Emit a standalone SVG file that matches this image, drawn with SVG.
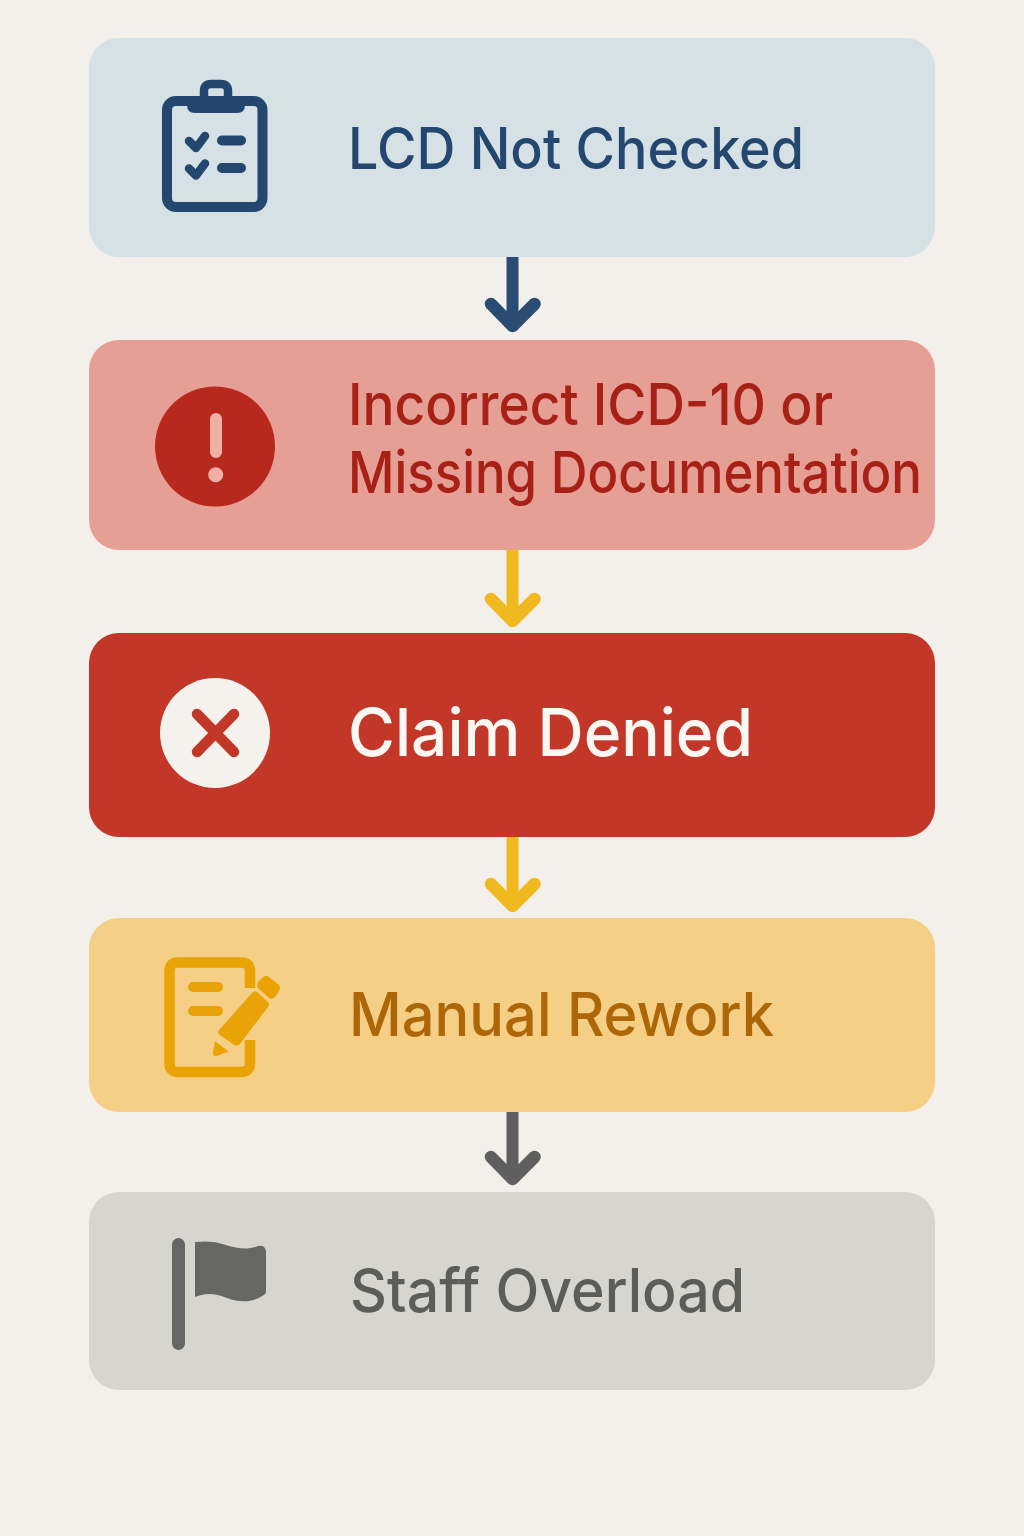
<svg xmlns="http://www.w3.org/2000/svg" width="1024" height="1536" viewBox="0 0 1024 1536">
<style>
.lbl{font-family:"Inter","Noto Sans","Liberation Sans",sans-serif;font-weight:500}
.conn{fill:none;stroke-width:12}
.head{fill:none;stroke-width:12.5;stroke-linecap:round;stroke-linejoin:round}
</style>
<rect width="1024" height="1536" fill="#f3f0eb"/>
<g id="connectors">
<path class="conn" stroke="#2a4b72" d="M512.500 257V326"/><path class="head" stroke="#2a4b72" d="M491 304L512.500 326L534.500 304"/>
<path class="conn" stroke="#f0b91f" d="M512.500 550V619"/><path class="head" stroke="#f0b91f" d="M491 599L512.500 621L534.500 599"/>
<path class="conn" stroke="#f0b91f" d="M512.500 837V904"/><path class="head" stroke="#f0b91f" d="M491 884L512.500 906L534.500 884"/>
<path class="conn" stroke="#5f5f5f" d="M512.500 1112V1178"/><path class="head" stroke="#5f5f5f" d="M491 1157L512.500 1179L534.500 1157"/>
</g>
<g id="node-lcd">
<rect x="89" y="38" width="846" height="219" rx="30" fill="#d6e1e5"/>
<rect x="167" y="101" width="95.500" height="106" rx="9" fill="none" stroke="#24476f" stroke-width="10"/>
<path d="M204 100V91Q204 84 211 84H221Q228 84 228 91V100" fill="none" stroke="#24476f" stroke-width="8.500"/>
<path d="M187 96H245V105Q245 113 237 113H195Q187 113 187 105Z" fill="#24476f"/>
<path d="M189 141L196 148L205 136M189 168.500L196 175.500L205 163.500" fill="none" stroke="#24476f" stroke-width="8.500" stroke-linecap="round" stroke-linejoin="round"/>
<path d="M222 140.500H241M222 168H241" fill="none" stroke="#24476f" stroke-width="10" stroke-linecap="round"/>
<text class="lbl" x="348" y="169" fill="#24476f" font-size="57" textLength="456" lengthAdjust="spacingAndGlyphs">LCD Not Checked</text>
</g>
<g id="node-incorrect">
<rect x="89" y="340" width="846" height="210" rx="30" fill="#e69f94"/>
<circle cx="215" cy="446.500" r="60" fill="#b8291d"/>
<path d="M216 419V452" fill="none" stroke="#f0b0a5" stroke-width="12" stroke-linecap="round"/>
<circle cx="215.700" cy="474.700" r="7.500" fill="#f0b0a5"/>
<text class="lbl" x="348" y="425" fill="#a82116" font-size="58" textLength="485" lengthAdjust="spacingAndGlyphs">Incorrect ICD-10 or</text>
<text class="lbl" x="348" y="493" fill="#a82116" font-size="58" textLength="574" lengthAdjust="spacingAndGlyphs">Missing Documentation</text>
</g>
<g id="node-denied">
<rect x="89" y="633" width="846" height="204" rx="30" fill="#c23728"/>
<circle cx="215" cy="733" r="55" fill="#f5f2ed"/>
<path d="M197 714L234 752M234 714L197 752" fill="none" stroke="#c23728" stroke-width="10.500" stroke-linecap="round"/>
<text class="lbl" x="348" y="756" fill="#fbf8f3" font-size="66" textLength="405" lengthAdjust="spacingAndGlyphs">Claim Denied</text>
</g>
<g id="node-rework">
<rect x="89" y="918" width="846" height="194" rx="30" fill="#f5cf85"/>
<path d="M250 988V971Q250 962.500 241 962.500H178Q169.500 962.500 169.500 971V1063Q169.500 1072 178 1072H241Q250 1072 250 1063V1040" fill="none" stroke="#e9a306" stroke-width="10.500"/>
<path d="M193 987H218M193 1011H218" fill="none" stroke="#e9a306" stroke-width="10" stroke-linecap="round"/>
<path d="M252 993Q254 990 257 992L268 1002Q270 1004 268 1007L240 1044Q237 1047 234 1045L220 1035Q217 1033 219 1030Z" fill="#e9a306"/>
<path d="M258 982L263 977Q266 975 269 977L279 985Q281 988 279 991L275 997Q272 1000 269 998L259 989Q256 986 258 982Z" fill="#e9a306"/>
<path d="M215 1041L229 1052Q222 1053 220 1055L216 1056Q212 1056 213 1052Z" fill="#e9a306"/>
<text class="lbl" x="349" y="1036" fill="#ad6608" font-size="60" textLength="425" lengthAdjust="spacingAndGlyphs">Manual Rework</text>
</g>
<g id="node-overload">
<rect x="89" y="1192" width="846" height="198" rx="30" fill="#d6d5d0"/>
<rect x="172" y="1238" width="13" height="112" rx="6.500" fill="#666664"/>
<path d="M195 1242C205 1241 215 1241 226 1245C238 1249 248 1250 258 1246Q265 1245 266 1251V1293C258 1301 243 1304 227 1298C215 1293 205 1293 195 1297Z" fill="#666664"/>
<text class="lbl" x="350" y="1312" fill="#5c5c5a" font-size="60" textLength="395" lengthAdjust="spacingAndGlyphs">Staff Overload</text>
</g>
</svg>
